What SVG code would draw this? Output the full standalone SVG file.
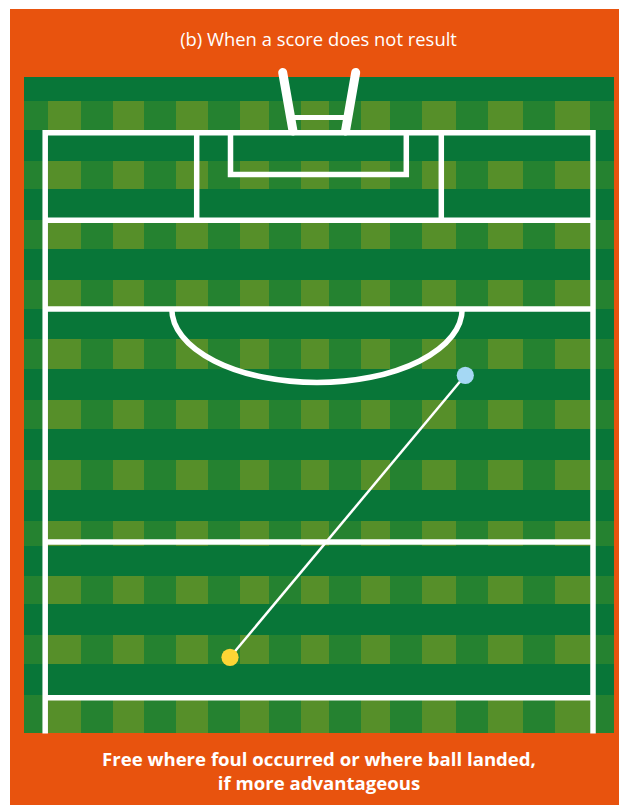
<svg xmlns="http://www.w3.org/2000/svg" width="619" height="805" viewBox="0 0 619 805">
<style>
.ln{fill:none;stroke:#ffffff;stroke-width:5.5}
.post{stroke:#ffffff;stroke-width:9;stroke-linecap:round}
.lt{fill:#568f29}
.title{font-family:"Open Sans","Liberation Sans",sans-serif;font-size:18.4px;fill:#ffffff;text-anchor:middle}
.cap{font-family:"Open Sans","Liberation Sans",sans-serif;font-size:18.6px;font-weight:700;fill:#ffffff;text-anchor:middle}
</style>
<defs>
<clipPath id="rows">
<rect x="24" y="101" width="590" height="29"/>
<rect x="24" y="161" width="590" height="28"/>
<rect x="24" y="220" width="590" height="29"/>
<rect x="24" y="280" width="590" height="29"/>
<rect x="24" y="339" width="590" height="30"/>
<rect x="24" y="400" width="590" height="29"/>
<rect x="24" y="460" width="590" height="30"/>
<rect x="24" y="521" width="590" height="25"/>
<rect x="24" y="576" width="590" height="28"/>
<rect x="24" y="635" width="590" height="29"/>
<rect x="24" y="695" width="590" height="38"/>
</clipPath>
</defs>
<rect id="frame" x="10" y="9" width="609" height="796" fill="#e8530e"/>
<g id="field">
<rect x="24" y="77" width="590" height="656" fill="#087638"/>
<g clip-path="url(#rows)">
<rect x="24" y="77" width="590" height="656" fill="#258230"/>
<rect class="lt" x="48" y="77" width="33" height="656"/>
<rect class="lt" x="113" y="77" width="31" height="656"/>
<rect class="lt" x="176" y="77" width="32" height="656"/>
<rect class="lt" x="240" y="77" width="29" height="656"/>
<rect class="lt" x="301" y="77" width="28" height="656"/>
<rect class="lt" x="361" y="77" width="29" height="656"/>
<rect class="lt" x="422" y="77" width="34" height="656"/>
<rect class="lt" x="488" y="77" width="35" height="656"/>
<rect class="lt" x="555" y="77" width="35" height="656"/>
</g>
</g>
<g id="goalposts">
<line class="post" x1="282.7" y1="72.5" x2="293" y2="131"/>
<line class="post" x1="355.7" y1="72.5" x2="345.5" y2="131"/>
<line x1="290" y1="117.5" x2="349" y2="117.5" stroke="#ffffff" stroke-width="5"/>
</g>
<g id="pitch-lines">
<path class="ln" d="M45.2,733.5 V132.8 H593 V733.5"/>
<line class="ln" x1="45.2" y1="220.3" x2="593" y2="220.3"/>
<line class="ln" x1="196.7" y1="132.8" x2="196.7" y2="220.3"/>
<line class="ln" x1="441.3" y1="132.8" x2="441.3" y2="220.3"/>
<path class="ln" d="M230.5,132.8 V174.5 H406.3 V132.8"/>
<line class="ln" x1="45.2" y1="309" x2="593" y2="309"/>
<path class="ln" d="M171.8,309 A145.2 73.5 0 0 0 462.2,309"/>
<line class="ln" x1="45.2" y1="542" x2="593" y2="542"/>
<line class="ln" x1="45.2" y1="697.7" x2="593" y2="697.7"/>
</g>
<g id="connectors">
<line x1="230" y1="657.3" x2="465.3" y2="375.3" stroke="#ffffff" stroke-width="2.5"/>
</g>
<g id="foul-point"><circle cx="465.3" cy="375.3" r="8.6" fill="#a5d8f4"/></g>
<g id="ball-landed"><circle cx="230" cy="657.3" r="8.6" fill="#fcd535"/></g>
<g id="labels">
<text class="title" x="318.5" y="45.5">(b) When a score does not result</text>
<text class="cap" x="319" y="766">Free where foul occurred or where ball landed,</text>
<text class="cap" x="319" y="790">if more advantageous</text>
</g>
</svg>
